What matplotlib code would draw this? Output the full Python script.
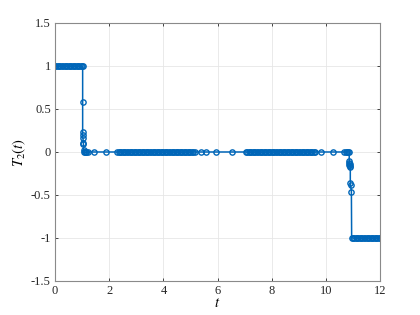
"""
Plot T_2(t) samples with a stepwise drop near t = 1 and t = 11.
"""

import matplotlib.pyplot as plt

# samples, segment by segment
t_high = [0.0, 0.05, 0.1, 0.15, 0.2, 0.25, 0.3, 0.35, 0.4, 0.45, 0.5, 0.55,
          0.6, 0.65, 0.7, 0.75, 0.8, 0.85, 0.9, 0.95, 1.0, 1.02]
v_high = [1] * len(t_high)

t_drop1 = [1.02, 1.02, 1.02, 1.03, 1.04, 1.05, 1.06, 1.08]
v_drop1 = [0.58, 0.236, 0.20, 0.16, 0.11, 0.09, 0.02, 0.0]

t_zero = [1.1, 1.13, 1.16, 1.2, 1.44, 1.88,
          2.3, 2.35, 2.4, 2.45, 2.5, 2.55, 2.6, 2.65, 2.7, 2.75, 2.8, 2.85,
          2.9, 2.95, 3.0, 3.05, 3.1, 3.15, 3.2, 3.25, 3.3, 3.35, 3.4, 3.45,
          3.5, 3.55, 3.6, 3.65, 3.7, 3.75, 3.8, 3.85, 3.9, 3.95, 4.0, 4.05,
          4.1, 4.15, 4.2, 4.25, 4.3, 4.35, 4.4, 4.45, 4.5, 4.55, 4.6, 4.65,
          4.7, 4.75, 4.8, 4.85, 4.9, 4.95, 5.0, 5.05, 5.1,
          5.17, 5.38, 5.56, 5.93, 6.52,
          7.05, 7.1, 7.15, 7.2, 7.25, 7.3, 7.35, 7.4, 7.45, 7.5, 7.55, 7.6,
          7.65, 7.7, 7.75, 7.8, 7.85, 7.9, 7.95, 8.0, 8.05, 8.1, 8.15, 8.2,
          8.25, 8.3, 8.35, 8.4, 8.45, 8.5, 8.55, 8.6, 8.65, 8.7, 8.75, 8.8,
          8.85, 8.9, 8.95, 9.0, 9.05, 9.1, 9.15, 9.2, 9.25, 9.3, 9.35, 9.4,
          9.45, 9.5, 9.55, 9.6,
          9.82, 10.27, 10.66, 10.74, 10.79, 10.82]
v_zero = [0.0] * len(t_zero)

t_drop2 = [10.86, 10.86, 10.87, 10.87, 10.88, 10.89, 10.9, 10.9, 10.91, 10.94]
v_drop2 = [0.0, -0.11, -0.13, -0.15, -0.17, -0.14, -0.16, -0.36, -0.38, -0.46]

t_low = [10.95, 11.0, 11.05, 11.1, 11.15, 11.2, 11.25, 11.3, 11.35, 11.4,
         11.45, 11.5, 11.55, 11.6, 11.65, 11.7, 11.75, 11.8, 11.85, 11.9,
         11.95, 12.0]
v_low = [-1] * len(t_low)

t = t_high + t_drop1 + t_zero + t_drop2 + t_low
T2 = v_high + v_drop1 + v_zero + v_drop2 + v_low

plt.rcParams["font.family"] = "Liberation Serif"
plt.rcParams["mathtext.fontset"] = "stix"

fig = plt.figure(figsize=(4.2, 3.15), dpi=100)
ax = fig.add_axes([0.131, 0.108, 0.774, 0.819])

ax.plot(t, T2, "-o", color="#0066B8", lw=1.1, markersize=3.8,
        markerfacecolor="none", markeredgewidth=1.0)

ax.set_xlim(0, 12)
ax.set_ylim(-1.5, 1.5)
ax.set_xticks([0, 2, 4, 6, 8, 10, 12])
ax.set_yticks([-1.5, -1, -0.5, 0, 0.5, 1, 1.5])
ax.set_yticklabels(["-1.5", "-1", "-0.5", "0", "0.5", "1", "1.5"])
ax.grid(True, color="#e6e6e6", lw=0.6)
ax.set_axisbelow(True)
ax.tick_params(direction="in", length=2.5, width=0.6, labelsize=9,
               top=True, right=True, colors="#262626", pad=3)
for s in ax.spines.values():
    s.set_color("#8a8a8a")
    s.set_linewidth(0.8)

ax.set_xlabel("$t$", fontsize=10.5, labelpad=0)
ax.set_ylabel("$T_2(t)$", fontsize=10.5, labelpad=2)

fig.savefig("out.png", dpi=100)
